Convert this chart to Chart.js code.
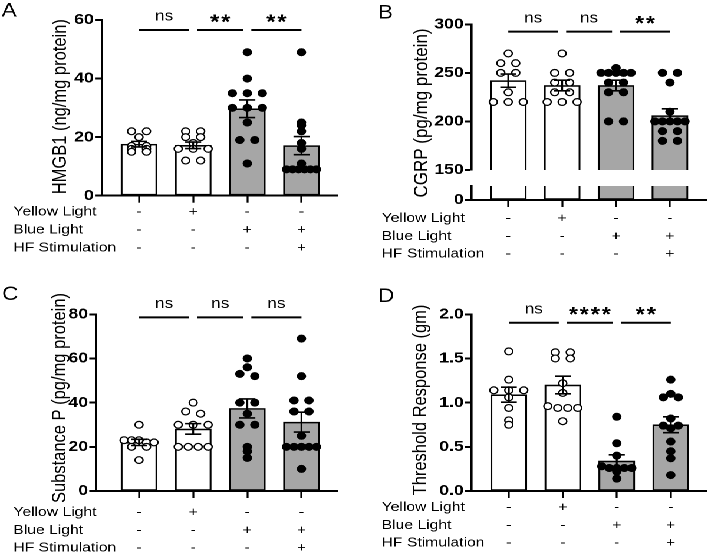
<!DOCTYPE html>
<html>
<head>
<meta charset="utf-8">
<script src="https://cdn.jsdelivr.net/npm/chart.js@4.4.0/dist/chart.umd.min.js"></script>
<style>
  html, body { margin: 0; padding: 0; background: #fff; overflow: hidden; }
  /* the source figure is stretched sideways, so draw narrow and widen it */
  #fig { position: absolute; left: 0; top: 0; width: 603px; height: 553px;
         transform: scaleX(1.1791); transform-origin: 0 0; }
  #fig canvas { position: absolute; }
</style>
</head>
<body>
<div id="fig">
  <canvas id="cA"  width="300" height="272" style="left:0;top:0"></canvas>
  <canvas id="cB"  width="303" height="200" style="left:300px;top:0"></canvas>
  <canvas id="cB0" width="303" height="97"  style="left:300px;top:176px"></canvas>
  <canvas id="cC"  width="300" height="273" style="left:0;top:280px"></canvas>
  <canvas id="cD"  width="303" height="273" style="left:300px;top:280px"></canvas>
</div>
<script>
// ── Data ─────────────────────────────────────────────────────────────────────
const groups    = ['Control', 'Yellow Light', 'Blue Light', 'Blue Light + HF'];
const rowNames  = ['Yellow Light', 'Blue Light', 'HF Stimulation'];
const yellowRow = ['-', '+', '-', '-'];
const blueRow   = ['-', '-', '+', '+'];
const hfRow     = ['-', '-', '-', '+'];

// A  HMGB1 (ng/mg protein)
const hmgb1Points = [
  [22, 22, 20, 17, 17, 16, 16, 15, 15],
  [22, 22, 20, 20, 18, 16, 16, 16, 12, 12],
  [49, 40, 35, 35, 35, 30, 30, 30, 25, 19, 19, 11],
  [49, 25, 24, 22, 18, 16, 11, 9, 9, 9, 9, 9, 9]
];
const hmgb1Mean  = [17.6, 17.2, 29.7, 17.1];
const hmgb1Sem   = [0.95, 1.1, 3.0, 3.1];
const hmgb1Ticks = [0, 20, 40, 60];
const hmgb1Sig   = ['ns', '**', '**'];

// B  CGRP (pg/mg protein), broken axis
const cgrpPoints = [
  [270, 260, 260, 250, 250, 230, 220, 220, 220],
  [270, 250, 250, 240, 240, 230, 230, 220, 220, 220],
  [255, 250, 250, 250, 250, 250, 240, 240, 230, 230, 200, 200],
  [250, 250, 240, 210, 200, 200, 200, 200, 200, 190, 190, 180, 180]
];
const cgrpMean       = [242, 237, 237, 206];
const cgrpSem        = [6.8, 5.5, 5.5, 7];
const cgrpTicks      = [150, 200, 250, 300];
const cgrpLowerTicks = [0, 10];
const cgrpSig        = ['ns', 'ns', '**'];

// C  Substance P (pg/mg protein)
const subPPoints = [
  [30, 23, 23, 23, 22, 22, 20, 20, 14],
  [40, 36, 35, 30, 30, 30, 20, 20, 20, 20],
  [60, 56, 53, 52, 40, 40, 35, 30, 30, 20, 18, 15],
  [69, 52, 41, 41, 36, 36, 25, 20, 20, 20, 20, 20, 10]
];
const subPMean  = [22, 28.1, 37.4, 31.2];
const subPSem   = [1.4, 2.4, 4.3, 4.5];
const subPTicks = [0, 20, 40, 60, 80];
const subPSig   = ['ns', 'ns', 'ns'];

// D  Threshold Response (gm)
const threshPoints = [
  [1.58, 1.26, 1.14, 1.14, 1.14, 1.06, 0.94, 0.80, 0.75],
  [1.57, 1.57, 1.50, 1.50, 1.22, 1.11, 0.96, 0.94, 0.94, 0.94, 0.79],
  [0.84, 0.54, 0.40, 0.28, 0.26, 0.26, 0.26, 0.26, 0.22, 0.14],
  [1.26, 1.10, 1.06, 1.06, 0.82, 0.74, 0.74, 0.71, 0.56, 0.45, 0.37, 0.18]
];
const threshMean  = [1.09, 1.20, 0.34, 0.75];
const threshSem   = [0.085, 0.10, 0.07, 0.09];
const threshTicks = [0, 0.5, 1.0, 1.5, 2.0];
const threshSig   = ['ns', '****', '**'];

// ── Shared styling ───────────────────────────────────────────────────────────
const FONT = "'Liberation Sans', Arial, Helvetica, sans-serif";
Chart.defaults.font.family = FONT;
Chart.defaults.color = '#000';

const BAR_FILL = ['#ffffff', '#ffffff', '#a6a6a6', '#a6a6a6'];
const ROW_LH = 17.8;

// spread points that sit on the same row, like a column scatter
const swarm = {
  id: 'swarm',
  afterDatasetsUpdate(chart) {
    chart.data.datasets.forEach((ds, di) => {
      if (ds.type !== 'scatter') return;
      const els = chart.getDatasetMeta(di).data.slice().sort((a, b) => a.y - b.y);
      const rows = [];
      els.forEach(el => {
        const last = rows[rows.length - 1];
        if (last && Math.abs(el.y - last[0].y) < 2.6) last.push(el); else rows.push([el]);
      });
      rows.forEach(r => {
        const k = r.length;
        const sp = k > 1 ? Math.min(12.7, 25.4 / (k - 1)) : 0;
        r.forEach((el, j) => { el.x += (j - (k - 1) / 2) * sp; });
      });
    });
  }
};

function extras(p) {
  return {
    id: 'extras',
    afterDatasetsDraw(chart) {
      if (!p.sem) return;
      const { ctx, scales: { x, y } } = chart;
      ctx.save();
      ctx.strokeStyle = '#000';
      ctx.lineWidth = 1.6;
      p.mean.forEach((m, i) => {
        const px = x.getPixelForValue(i);
        const hi = y.getPixelForValue(m + p.sem[i]);
        const lo = y.getPixelForValue(m - p.sem[i]);
        ctx.beginPath();
        ctx.moveTo(px, hi); ctx.lineTo(px, lo);
        ctx.moveTo(px - 6.8, hi); ctx.lineTo(px + 6.8, hi);
        ctx.moveTo(px - 6.8, lo); ctx.lineTo(px + 6.8, lo);
        ctx.stroke();
      });
      ctx.restore();
    },
    afterDraw(chart) {
      const { ctx, scales: { x, y } } = chart;
      ctx.save();
      ctx.fillStyle = '#000';
      ctx.strokeStyle = '#000';
      // significance bars
      if (p.sig) {
        const ly = y.getPixelForValue(p.sigY);
        p.sig.forEach((s, i) => {
          const x0 = x.getPixelForValue(i + (i > 0 ? 0.074 : 0));
          const x1 = x.getPixelForValue(i + 1 - (i + 1 < 3 ? 0.074 : 0));
          ctx.lineWidth = 2;
          ctx.beginPath(); ctx.moveTo(x0, ly); ctx.lineTo(x1, ly); ctx.stroke();
          ctx.textAlign = 'center';
          ctx.textBaseline = 'alphabetic';
          if (s === 'ns') {
            ctx.font = `14.5px ${FONT}`;
            ctx.letterSpacing = '0px';
            ctx.fillText(s, (x0 + x1) / 2, ly - 9.3);
          } else {
            ctx.font = `bold 20px ${FONT}`;
            ctx.letterSpacing = '1.5px';
            ctx.fillText(s, (x0 + x1) / 2 + 0.75, ly - 1.5);
          }
        });
        ctx.letterSpacing = '0px';
      }
      // row names for the +/- table
      if (p.rows) {
        ctx.font = `13.3px ${FONT}`;
        ctx.textAlign = 'left';
        ctx.textBaseline = 'middle';
        rowNames.forEach((n, r) => {
          ctx.fillText(n, p.rowX, x.top + 7 + p.tickPad + ROW_LH * (r + 0.5));
        });
      }
      // panel letter
      if (p.letter) {
        ctx.font = `19px ${FONT}`;
        ctx.textAlign = 'left';
        ctx.textBaseline = 'alphabetic';
        ctx.fillText(p.letter, p.letterX, p.letterY);
      }
      // rotated y-axis title
      if (p.title) {
        ctx.translate(p.title.x, p.title.y);
        ctx.rotate(-Math.PI / 2);
        ctx.font = `${p.title.size}px ${FONT}`;
        ctx.textAlign = 'center';
        ctx.textBaseline = 'middle';
        ctx.fillText(p.title.text, 0, 0);
      }
      ctx.restore();
    }
  };
}

function makePanel(id, p) {
  const datasets = [{
    type: 'bar',
    data: p.mean.map((m, i) => ({ x: i, y: m })),
    backgroundColor: BAR_FILL,
    borderColor: '#000',
    borderWidth: 1.6,
    borderSkipped: false,
    barThickness: 30.5,
    clip: 0,
    order: 3
  }];
  (p.points || []).forEach((vals, i) => datasets.push({
    type: 'scatter',
    data: vals.map(v => ({ x: i, y: v })),
    pointRadius: 3.4,
    pointBorderWidth: 1.2,
    pointBorderColor: '#000',
    pointBackgroundColor: i < 2 ? '#fff' : '#000',
    clip: false,
    order: 1
  }));

  return new Chart(document.getElementById(id), {
    data: { datasets },
    options: {
      responsive: false,
      animation: false,
      events: [],
      devicePixelRatio: 2,
      layout: { autoPadding: false, padding: { top: p.padTop, right: p.padRight, bottom: p.padBottom || 0, left: 0 } },
      plugins: { legend: { display: false }, tooltip: { enabled: false } },
      scales: {
        x: {
          type: 'linear',
          offset: false,
          min: p.xMin, max: p.xMax,
          display: p.showX,
          afterBuildTicks: s => { s.ticks = groups.map((g, i) => ({ value: i })); },
          afterFit: s => { s.height = p.xHeight || 0; },
          grid: { display: true, offset: false, drawOnChartArea: false, drawTicks: true, tickLength: 7, tickWidth: 1.6, tickColor: '#000' },
          border: { display: true, color: '#000', width: 2 },
          ticks: {
            padding: p.tickPad || 0, autoSkip: false, maxRotation: 0, color: '#000',
            font: { size: 13.3, lineHeight: 1.34 },
            callback: v => [yellowRow[v], blueRow[v], hfRow[v]]
          }
        },
        y: {
          type: 'linear',
          min: p.yMin, max: p.yMax,
          afterBuildTicks: s => { s.ticks = p.ticks.map(v => ({ value: v })); },
          afterFit: s => { s.width = p.yWidth; },
          grid: { display: true, drawOnChartArea: false, drawTicks: true, tickLength: 5.7, tickWidth: 2, tickColor: '#000' },
          border: { display: true, color: '#000', width: 1.8 },
          ticks: { padding: 1, color: '#000', font: { size: 15, weight: 'bold' }, callback: p.fmt || (v => String(v)) },
          title: { display: false }
        }
      }
    },
    plugins: [swarm, extras(p)]
  });
}

// ── Panels ───────────────────────────────────────────────────────────────────
makePanel('cA', {
  points: hmgb1Points, mean: hmgb1Mean, sem: hmgb1Sem, ticks: hmgb1Ticks,
  yMin: 0, yMax: 60, sig: hmgb1Sig, sigY: 56.6,
  title: { text: 'HMGB1 (ng/mg protein)', x: 51.5, y: 106.7, size: 16.5 },
  xMin: -0.689, xMax: 3.675, yWidth: 86.25, padTop: 20, padRight: 13.3,
  showX: true, xHeight: 76.3, tickPad: 0.4, rows: true, rowX: 11.3,
  letter: 'A', letterX: 1.4, letterY: 16.7
});

makePanel('cB', {
  points: cgrpPoints, mean: cgrpMean, sem: cgrpSem, ticks: cgrpTicks,
  yMin: 150, yMax: 300, sig: cgrpSig, sigY: 292.4,
  title: { text: 'CGRP (pg/mg protein)', x: 57.7, y: 113, size: 17 },
  xMin: -0.679, xMax: 3.683, yWidth: 100.05, padTop: 24.3, padRight: 3.6, padBottom: 30,
  showX: false,
  letter: 'B', letterX: 20.6, letterY: 18.3
});

makePanel('cB0', {
  mean: cgrpMean, ticks: cgrpLowerTicks, yMin: 0, yMax: 10,
  fmt: v => (v === 0 ? '0' : ''),
  xMin: -0.679, xMax: 3.683, yWidth: 100.05, padTop: 6.7, padRight: 3.6,
  showX: true, xHeight: 73, tickPad: 2.4, rows: true, rowX: 23.7
});

makePanel('cC', {
  points: subPPoints, mean: subPMean, sem: subPSem, ticks: subPTicks,
  yMin: 0, yMax: 80, sig: subPSig, sigY: 78.6,
  title: { text: 'Substance P (pg/mg protein)', x: 51.2, y: 118, size: 16.5 },
  xMin: -0.795, xMax: 3.675, yWidth: 81.4, padTop: 34.3, padRight: 13.3,
  showX: true, xHeight: 62, tickPad: 5.4, rows: true, rowX: 11.3,
  letter: 'C', letterX: 1.7, letterY: 20
});

makePanel('cD', {
  points: threshPoints, mean: threshMean, sem: threshSem, ticks: threshTicks,
  yMin: 0, yMax: 2, sig: threshSig, sigY: 1.905, fmt: v => v.toFixed(1),
  title: { text: 'Threshold Response (gm)', x: 56.8, y: 120, size: 16.5 },
  xMin: -0.687, xMax: 3.666, yWidth: 100.05, padTop: 34.3, padRight: 3.6,
  showX: true, xHeight: 62, tickPad: 0.4, rows: true, rowX: 23.7,
  letter: 'D', letterX: 20.6, letterY: 22
});
</script>
</body>
</html>
